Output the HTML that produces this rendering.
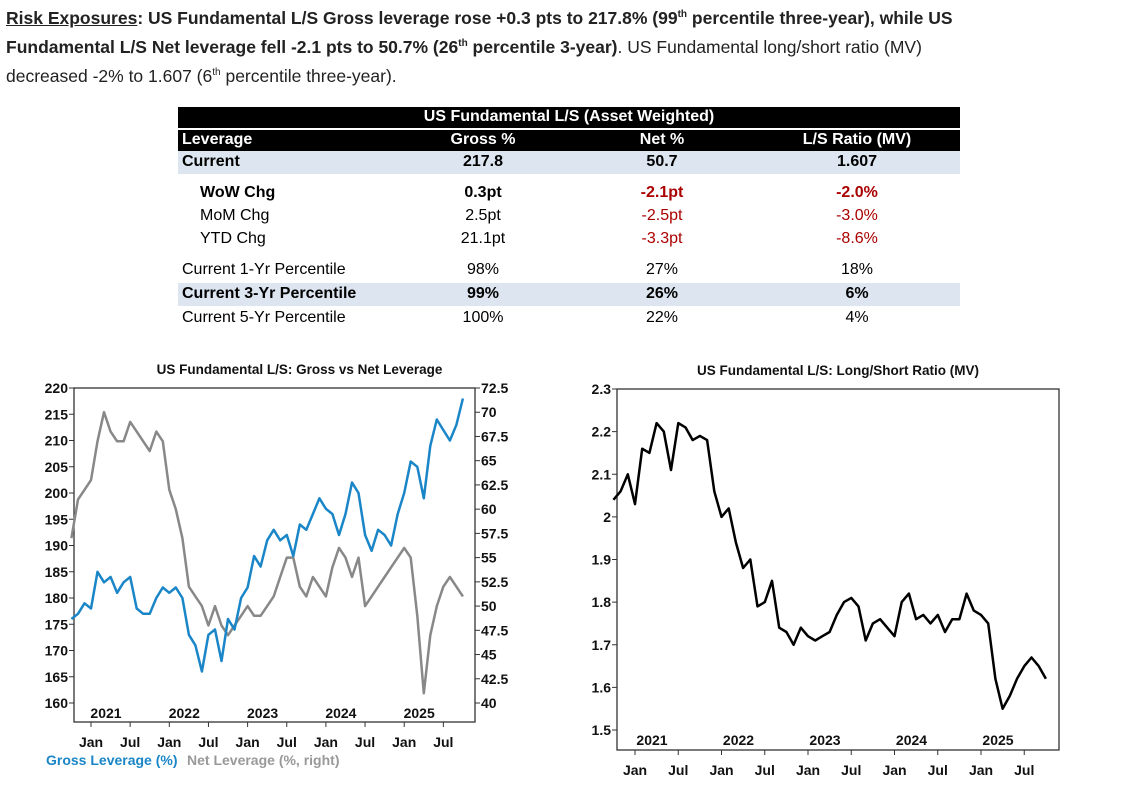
<!DOCTYPE html>
<html><head><meta charset="utf-8"><style>
body{margin:0;width:1145px;height:802px;background:#fff;font-family:"Liberation Sans",sans-serif;position:relative;overflow:hidden}
.intro{position:absolute;left:6px;top:2px;font-size:17.5px;line-height:26px;color:#222}
.intro div{white-space:nowrap}
.t{position:absolute;font-size:16px;white-space:nowrap}
.c{transform:translateX(-50%)}
.b{font-weight:bold}
.red{color:#a00}
.bar{position:absolute;left:178px;width:782px}
svg text{font-family:"Liberation Sans",sans-serif;font-weight:bold}
</style></head><body>
<div class="intro">
<div><b><u>Risk Exposures</u>: US Fundamental L/S Gross leverage rose +0.3 pts to 217.8% (99<sup style="font-size:10px">th</sup> percentile three-year), while US</b></div>
<div><b>Fundamental L/S Net leverage fell -2.1 pts to 50.7% (26<sup style="font-size:10px">th</sup> percentile 3-year)</b>. US Fundamental long/short ratio (MV)</div>
<div>decreased -2% to 1.607 (6<sup style="font-size:10px">th</sup> percentile three-year).</div>
</div>

<div>
<div class="bar" style="top:107px;height:21px;background:#000"></div>
<div class="t b c" style="left:569px;top:108px;color:#fff">US Fundamental L/S (Asset Weighted)</div>
<div class="bar" style="top:130px;height:21px;background:#000"></div>
<div class="t b" style="left:182px;top:131px;color:#fff">Leverage</div>
<div class="t b c" style="left:483px;top:131px;color:#fff">Gross %</div>
<div class="t b c" style="left:662px;top:131px;color:#fff">Net %</div>
<div class="t b c" style="left:857px;top:131px;color:#fff">L/S Ratio (MV)</div>
<div class="bar" style="top:151px;height:23px;background:#dde6f0"></div>
<div class="t b" style="left:182px;top:153px">Current</div>
<div class="t b c" style="left:483px;top:153px">217.8</div>
<div class="t b c" style="left:662px;top:153px">50.7</div>
<div class="t b c" style="left:857px;top:153px">1.607</div>
<div class="t b" style="left:200px;top:184px">WoW Chg</div>
<div class="t b c" style="left:483px;top:184px">0.3pt</div>
<div class="t b c red" style="left:662px;top:184px">-2.1pt</div>
<div class="t b c red" style="left:857px;top:184px">-2.0%</div>
<div class="t" style="left:200px;top:207px">MoM Chg</div>
<div class="t c" style="left:483px;top:207px">2.5pt</div>
<div class="t c red" style="left:662px;top:207px">-2.5pt</div>
<div class="t c red" style="left:857px;top:207px">-3.0%</div>
<div class="t" style="left:200px;top:230px">YTD Chg</div>
<div class="t c" style="left:483px;top:230px">21.1pt</div>
<div class="t c red" style="left:662px;top:230px">-3.3pt</div>
<div class="t c red" style="left:857px;top:230px">-8.6%</div>
<div class="t" style="left:182px;top:261px">Current 1-Yr Percentile</div>
<div class="t c" style="left:483px;top:261px">98%</div>
<div class="t c" style="left:662px;top:261px">27%</div>
<div class="t c" style="left:857px;top:261px">18%</div>
<div class="bar" style="top:283px;height:23px;background:#dde6f0"></div>
<div class="t b" style="left:182px;top:285px">Current 3-Yr Percentile</div>
<div class="t b c" style="left:483px;top:285px">99%</div>
<div class="t b c" style="left:662px;top:285px">26%</div>
<div class="t b c" style="left:857px;top:285px">6%</div>
<div class="t" style="left:182px;top:309px">Current 5-Yr Percentile</div>
<div class="t c" style="left:483px;top:309px">100%</div>
<div class="t c" style="left:662px;top:309px">22%</div>
<div class="t c" style="left:857px;top:309px">4%</div>
</div>

<svg id="ch" width="1145" height="802" style="position:absolute;left:0;top:0"></svg>
<script>
// monthly data Oct 2020 .. Oct 2025
const startMonth = -3; // months relative to Jan 2021
const grossValues = [176,177,179,178,185,183,184,181,183,184,178,177,177,180,182,181,182,180,173,171,166,173,174,168,176,174,180,182,188,186,191,193,191,192,188,194,193,196,199,197,196,192,196,202,200,192,189,193,192,190,196,200,206,205,199,209,214,212,210,213,218];
const netValues = [57,61,62,63,67,70,68,67,67,69,68,67,66,68,67,62,60,57,52,51,50,48,50,48,47,48,49,50,49,49,50,51,53,55,55,52,51,53,52,51,54,56,55,53,55,50,51,52,53,54,55,56,55,49,41,47,50,52,53,52,51];
const ratioValues = [2.04,2.06,2.10,2.03,2.16,2.15,2.22,2.20,2.11,2.22,2.21,2.18,2.19,2.18,2.06,2.00,2.02,1.94,1.88,1.90,1.79,1.80,1.85,1.74,1.73,1.70,1.74,1.72,1.71,1.72,1.73,1.77,1.80,1.81,1.79,1.71,1.75,1.76,1.74,1.72,1.80,1.82,1.76,1.77,1.75,1.77,1.73,1.76,1.76,1.82,1.78,1.77,1.75,1.62,1.55,1.58,1.62,1.65,1.67,1.65,1.62];
const leftTicks = [160,165,170,175,180,185,190,195,200,205,210,215,220];
const rightTicks = [40,42.5,45,47.5,50,52.5,55,57.5,60,62.5,65,67.5,70,72.5];
const ratioTicks = [1.5,1.6,1.7,1.8,1.9,2,2.1,2.2,2.3];
const years = ["2021","2022","2023","2024","2025"];
const monthLabels = ["Jan","Jul"];

const svg = document.getElementById('ch');
const NS = 'http://www.w3.org/2000/svg';
function el(tag, attrs, txt){const e=document.createElementNS(NS,tag);for(const k in attrs)e.setAttribute(k,attrs[k]);if(txt!==undefined)e.textContent=txt;svg.appendChild(e);return e;}

function drawChart(o){
  const g = el('rect',{x:o.x0,y:o.y0,width:o.x1-o.x0,height:o.y1-o.y0,fill:'none',stroke:'#333','stroke-width':1.3});
  
  
  const t = el('text',{x:(o.x0+o.x1)/2+o.titleDx,y:o.y0-14,'text-anchor':'middle','font-size':13.5,fill:'#111'},o.title);
  
  
  const xm = m => o.janX + m*o.yearW/12;
  for(let y=0;y<years.length;y++){
    for(let h=0;h<2;h++){
      const x = xm(y*12+h*6);
      el('line',{x1:x,x2:x,y1:o.y1,y2:o.y1+5,stroke:'#333'});
      const ml = el('text',{x:x,y:o.monY,'text-anchor':'middle','font-size':14,fill:'#111'},monthLabels[h]);
      
      
    }
    const yl = el('text',{x:xm(y*12)+o.yearDx,y:o.yearY,'text-anchor':'middle','font-size':14,fill:'#111'},years[y]);
    
    
  }
  o.axes.forEach(a=>{
    a.ticks.forEach(v=>{
      const y = a.scale(v);
      const x = a.side==='left'?o.x0:o.x1;
      const d = a.side==='left'?-5:5;
      el('line',{x1:x,x2:x+d,y1:y,y2:y,stroke:'#333'});
      const tl = el('text',{x:x+(a.side==='left'?-6:6),y:y+5,'text-anchor':a.side==='left'?'end':'start','font-size':14,fill:'#111'},String(v));
      
      
    });
  });
  o.series.forEach(s=>{
    const pts = s.values.map((v,i)=>xm(startMonth+i).toFixed(1)+','+s.scale(v).toFixed(1)).join(' ');
    const p = el('polyline',{points:pts,fill:'none',stroke:s.color,'stroke-width':2.5,'stroke-linejoin':'round'});
    
    
  });
}
const gY = v => 703 - (v-160)*315/60;
const nY = v => 703 - (v-40)*315/32.5;
const rY = v => 730 - (v-1.5)*341/0.8;
drawChart({name:'leverage-chart',x0:74,x1:475,y0:388,y1:722,title:'US Fundamental L/S: Gross vs Net Leverage',titleDx:25,
  janX:91,yearW:78.3,monY:747,yearY:718,yearDx:15,
  axes:[{side:'left',ticks:leftTicks,scale:gY},{side:'right',ticks:rightTicks,scale:nY}],
  series:[{name:'net-leverage-line',values:netValues,scale:nY,color:'#888'},{name:'gross-leverage-line',values:grossValues,scale:gY,color:'#1a86c8'}]});
drawChart({name:'ratio-chart',x0:617,x1:1059,y0:389,y1:750,title:'US Fundamental L/S: Long/Short Ratio (MV)',titleDx:0,
  janX:635,yearW:86.5,monY:775,yearY:745,yearDx:17,
  axes:[{side:'left',ticks:ratioTicks,scale:rY}],
  series:[{name:'ls-ratio-line',values:ratioValues,scale:rY,color:'#000'}]});
const l1 = el('text',{x:46,y:765,'font-size':14,fill:'#1a86c8'},'Gross Leverage (%)');


const l2 = el('text',{x:187,y:765,'font-size':14,fill:'#999'},'Net Leverage (%, right)');


</script>
</body></html>
